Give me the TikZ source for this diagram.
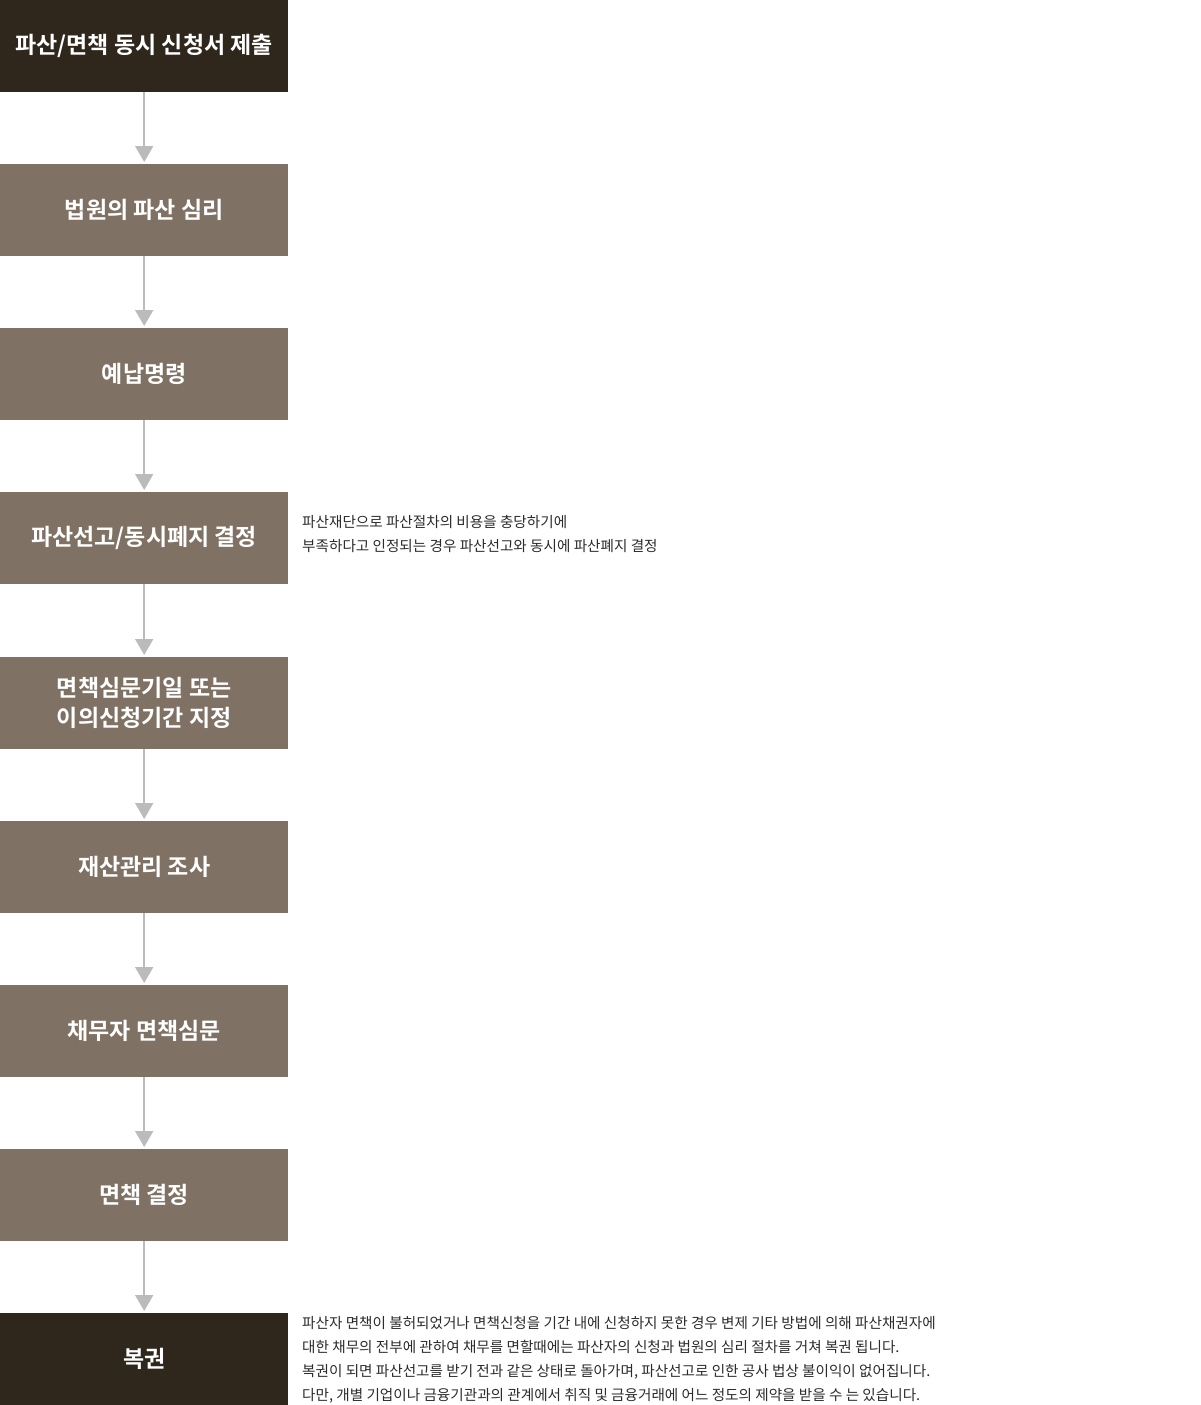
\documentclass[tikz,border=0pt]{standalone}
\usepackage{fontspec}
\newfontfamily\kr{Noto Sans CJK KR}
\newfontfamily\krb{Noto Sans CJK KR Bold}
\usetikzlibrary{arrows.meta}
\definecolor{darkbox}{HTML}{2F261C}
\definecolor{midbox}{HTML}{7F7163}
\definecolor{arrowgray}{HTML}{BBBBBB}
\definecolor{desctext}{HTML}{2B2B2B}
\begin{document}
\begin{tikzpicture}[x=1pt,y=-1pt,
  stepbox/.style={minimum width=288pt,minimum height=92pt,inner sep=0pt,anchor=north west,text=white,font=\krb\fontsize{23}{30}\selectfont,align=center},
  darkstep/.style={stepbox,fill=darkbox},
  midstep/.style={stepbox,fill=midbox},
  flow/.style={draw=arrowgray,line width=2pt,-{Triangle[length=16pt,width=18pt]},shorten >=2pt},
  desc/.style={anchor=west,inner sep=0pt,text=desctext,font=\kr\fontsize{14.6}{24}\selectfont,align=left}]
\useasboundingbox (0,0) rectangle (1200,1405);
\node[darkstep] (s1) at (0,0) {파산/면책 동시 신청서 제출};
\node[midstep] (s2) at (0,164) {법원의 파산 심리};
\node[midstep] (s3) at (0,328) {예납명령};
\node[midstep] (s4) at (0,492) {파산선고/동시폐지 결정};
\node[midstep] (s5) at (0,657) {면책심문기일 또는\\이의신청기간 지정};
\node[midstep] (s6) at (0,821) {재산관리 조사};
\node[midstep] (s7) at (0,985) {채무자 면책심문};
\node[midstep] (s8) at (0,1149) {면책 결정};
\node[darkstep] (s9) at (0,1313) {복권};
\foreach \a/\b in {s1/s2,s2/s3,s3/s4,s4/s5,s5/s6,s6/s7,s7/s8,s8/s9}
  \draw[flow] (\a.south) -- (\b.north);
\node[desc] (d4) at (302,534) {파산재단으로 파산절차의 비용을 충당하기에\\부족하다고 인정되는 경우 파산선고와 동시에 파산폐지 결정};
\node[desc] (d9) at (302,1360) {파산자 면책이 불허되었거나 면책신청을 기간 내에 신청하지 못한 경우 변제 기타 방법에 의해 파산채권자에\\대한 채무의 전부에 관하여 채무를 면할때에는 파산자의 신청과 법원의 심리 절차를 거쳐 복권 됩니다.\\복권이 되면 파산선고를 받기 전과 같은 상태로 돌아가며, 파산선고로 인한 공사 법상 불이익이 없어집니다.\\다만, 개별 기업이나 금융기관과의 관계에서 취직 및 금융거래에 어느 정도의 제약을 받을 수 는 있습니다.};
\end{tikzpicture}
\end{document}
